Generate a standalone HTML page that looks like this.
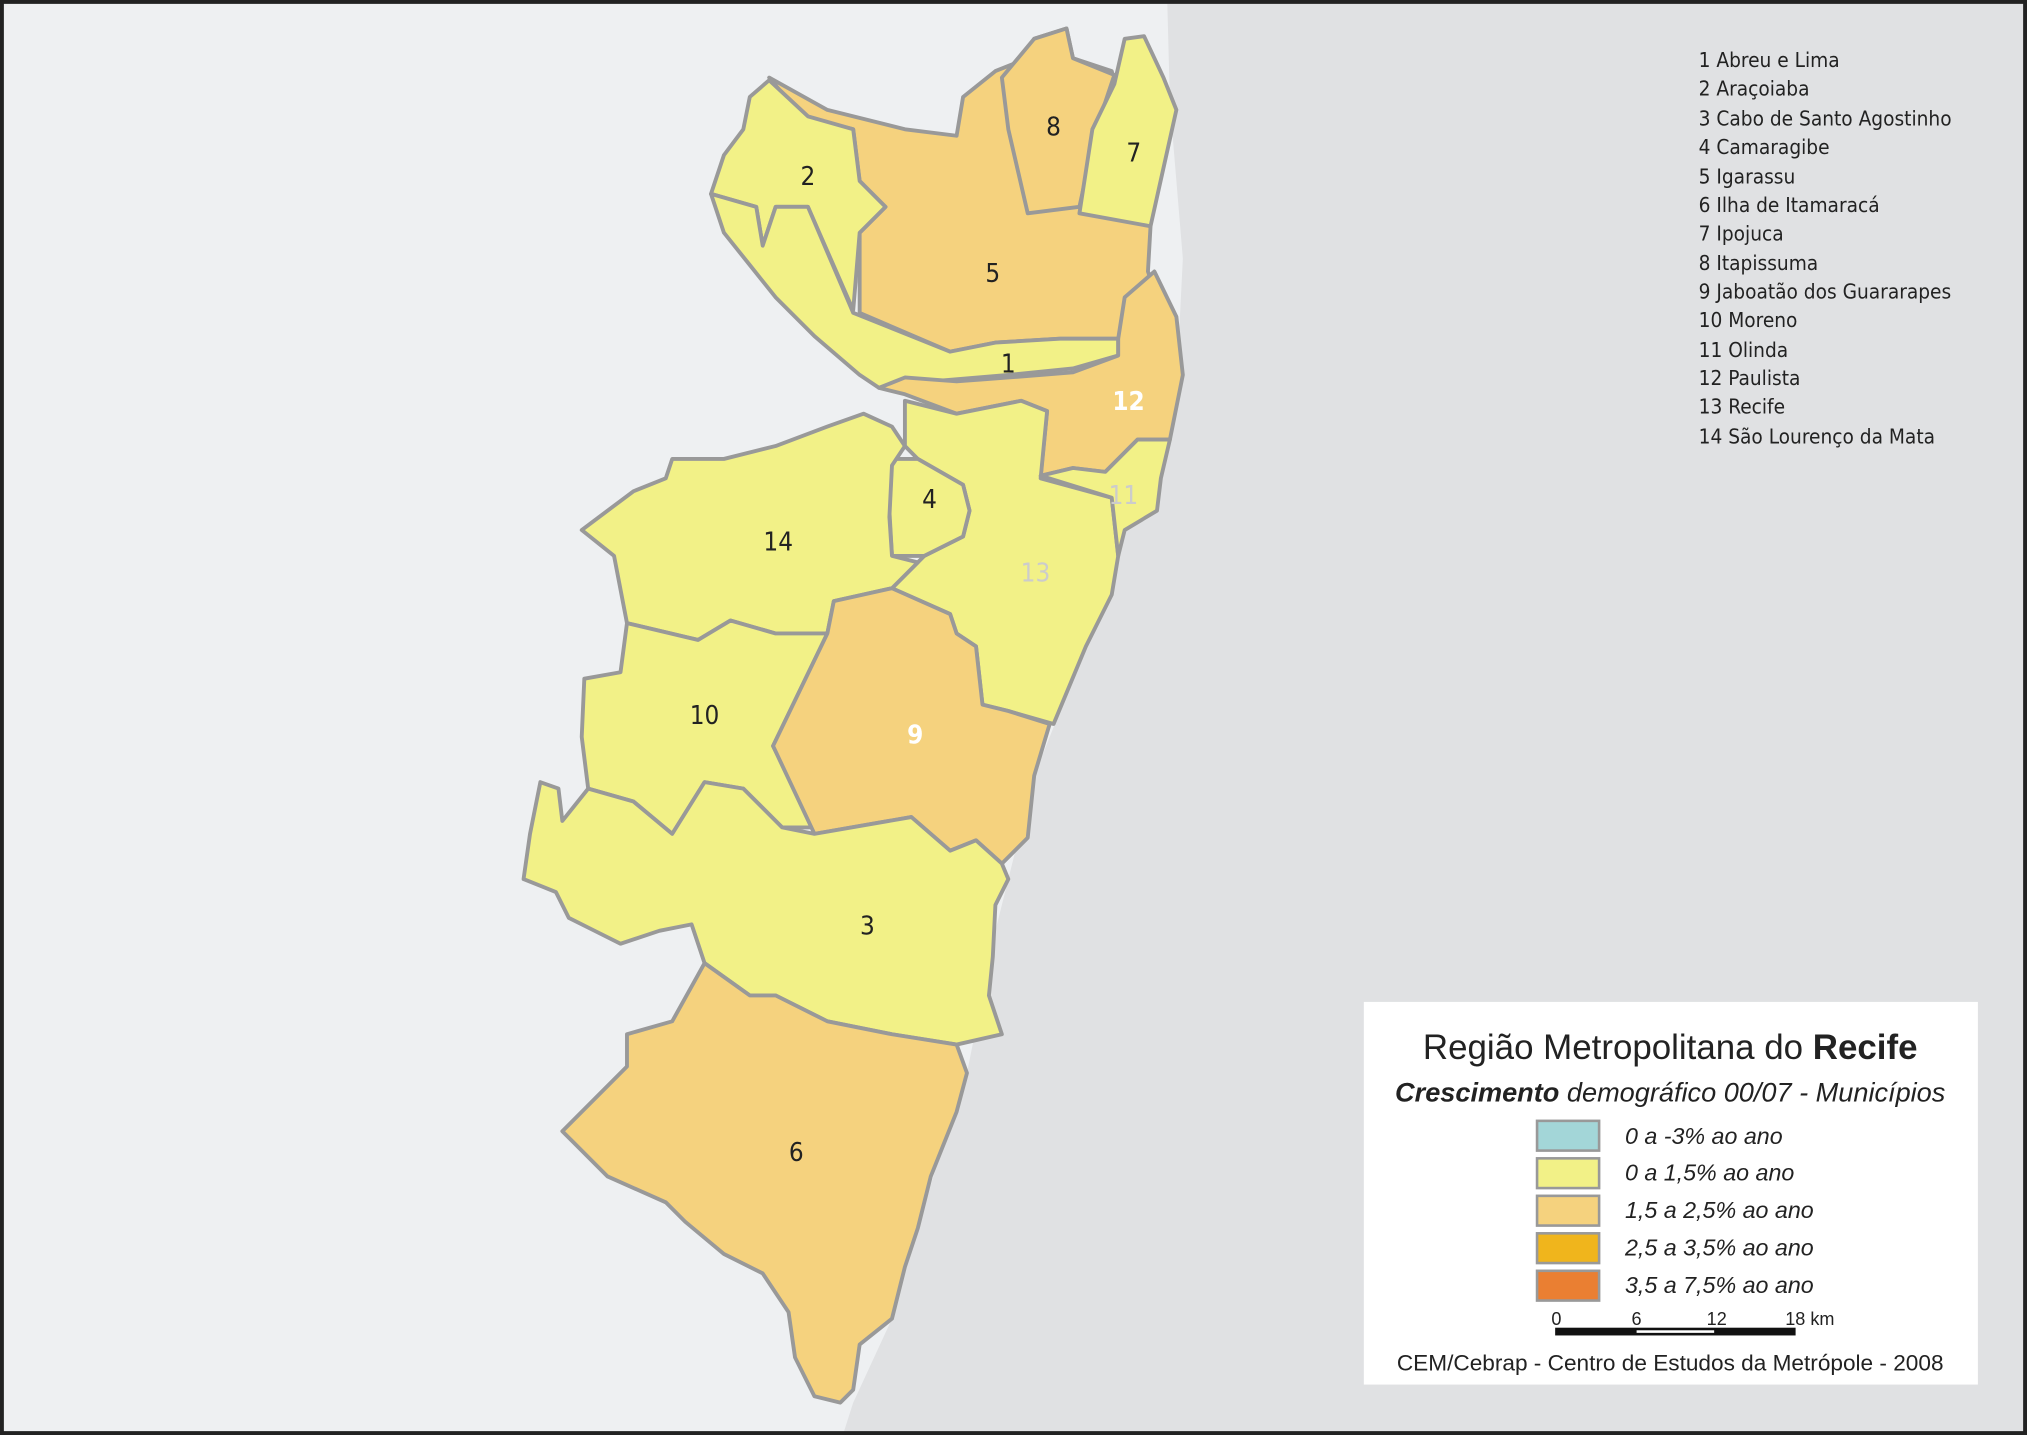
<!DOCTYPE html>
<html><head><meta charset="utf-8"><style>
html,body{margin:0;padding:0;background:#fff}
svg{display:block}
text{font-family:"Liberation Sans","DejaVu Sans",sans-serif}
.n{font-family:"DejaVu Sans Condensed","Liberation Sans Narrow","Liberation Sans",sans-serif;font-size:16px;fill:#222}
.lab{font-family:"DejaVu Sans Condensed","Liberation Sans",sans-serif;font-size:20px;fill:#222;text-anchor:middle}
.y{fill:#f2f187;stroke:#999;stroke-width:3;stroke-linejoin:round}
.o{fill:#f5d27e;stroke:#999;stroke-width:3;stroke-linejoin:round}
</style></head><body>
<svg width="2027" height="1435" viewBox="0 0 1568 1110" preserveAspectRatio="none">
<rect x="0" y="0" width="1568" height="1110" fill="#eef0f2"/>
<polygon points="903,3 1568,3 1568,1110 652,1110 660,1085 690,1020 710,950 725,900 748,830 770,720 800,600 840,500 870,400 910,300 915,200 905,80" fill="#e0e1e3"/>
<g>
<polygon class="o" points="595,60 640,85 700,100 740,105 745,75 770,55 795,45 800,30 825,22 830,45 860,55 865,75 850,100 835,160 890,175 888,210 895,230 880,245 868,262 820,262 770,265 735,272 665,242 665,180 685,160 665,140 660,100 620,90"/>
<polygon class="o" points="775,60 800,30 825,22 830,45 862,58 848,100 835,160 795,165 780,100"/>
<polygon class="y" points="870,30 885,28 900,60 910,85 900,130 890,175 835,165 845,100 862,65"/>
<polygon class="y" points="595,62 580,75 575,100 560,120 550,150 585,160 590,190 600,160 625,160 660,240 665,180 685,160 665,140 660,100 625,90"/>
<polygon class="y" points="550,150 560,180 580,205 600,230 630,260 665,290 680,300 720,295 780,290 830,285 865,275 865,262 820,262 770,265 735,272 660,242 625,160 600,160 590,190 585,160"/>
<polygon class="o" points="870,230 893,210 910,245 915,290 905,340 880,340 855,365 830,362 805,368 810,318 790,310 740,320 700,305 680,300 700,292 740,295 780,292 830,288 865,275 865,262"/>
<polygon class="y" points="700,310 740,320 790,310 810,318 805,370 860,385 865,430 860,460 840,500 815,560 780,550 760,545 755,500 740,490 735,475 690,455 715,430 745,415 750,395 745,375 710,355 700,345"/>
<polygon class="y" points="805,368 830,362 855,365 880,340 905,340 898,370 895,395 870,410 865,430 860,385"/>
<polygon class="y" points="690,355 710,355 745,375 750,395 745,415 715,430 690,430 688,395"/>
<polygon class="y" points="450,410 490,380 515,370 520,355 560,355 600,345 640,330 668,320 690,330 700,345 690,360 688,400 690,430 710,435 690,455 645,465 640,490 600,490 565,480 540,495 485,482 475,430"/>
<polygon class="y" points="485,482 540,495 565,480 600,490 640,490 598,577 630,640 605,640 575,610 545,605 520,645 490,620 455,610 450,570 452,525 480,520"/>
<polygon class="o" points="645,465 690,455 735,475 740,490 755,500 760,545 780,550 812,560 800,600 795,648 775,668 755,650 735,658 705,632 630,645 598,577 640,490"/>
<polygon class="y" points="455,610 490,620 520,645 545,605 575,610 605,640 630,645 705,632 735,658 755,650 775,668 780,680 770,700 768,740 765,770 775,800 740,808 690,800 640,790 600,770 580,770 545,745 535,715 510,720 480,730 460,720 440,710 430,690 405,680 410,645 418,605 432,610 435,635"/>
<polygon class="o" points="545,745 580,770 600,770 640,790 690,800 740,808 748,830 740,860 720,910 710,950 700,980 690,1020 665,1040 660,1075 650,1085 630,1080 615,1050 610,1015 590,985 560,970 530,945 515,930 470,910 435,875 485,825 485,800 520,790"/>
</g>
<g>
<text class="lab" x="780" y="288">1</text>
<text class="lab" x="625" y="143">2</text>
<text class="lab" x="671" y="723">3</text>
<text class="lab" x="719" y="393">4</text>
<text class="lab" x="768" y="218">5</text>
<text class="lab" x="616" y="898">6</text>
<text class="lab" x="877" y="125">7</text>
<text class="lab" x="815" y="105">8</text>
<text class="lab" x="708" y="575" style="fill:#fff;font-weight:bold">9</text>
<text class="lab" x="545" y="560">10</text>
<text class="lab" x="869" y="390" style="fill:#ccc">11</text>
<text class="lab" x="873" y="317" style="fill:#fff;font-weight:bold">12</text>
<text class="lab" x="801" y="450" style="fill:#ccc">13</text>
<text class="lab" x="602" y="426">14</text>
</g>
<g>
<text class="n" x="1314" y="52">1  Abreu e Lima</text>
<text class="n" x="1314" y="74">2  Araçoiaba</text>
<text class="n" x="1314" y="97">3  Cabo de Santo Agostinho</text>
<text class="n" x="1314" y="119">4  Camaragibe</text>
<text class="n" x="1314" y="142">5  Igarassu</text>
<text class="n" x="1314" y="164">6  Ilha de Itamaracá</text>
<text class="n" x="1314" y="186">7  Ipojuca</text>
<text class="n" x="1314" y="209">8  Itapissuma</text>
<text class="n" x="1314" y="231">9  Jaboatão dos Guararapes</text>
<text class="n" x="1314" y="253">10  Moreno</text>
<text class="n" x="1314" y="276">11  Olinda</text>
<text class="n" x="1314" y="298">12  Paulista</text>
<text class="n" x="1314" y="320">13  Recife</text>
<text class="n" x="1314" y="343">14  São Lourenço da Mata</text>
</g>
<g>
<rect x="1055" y="775" width="475" height="296" fill="#fff"/>
<text x="1292" y="819" text-anchor="middle" font-size="27" fill="#222">Região Metropolitana do <tspan font-weight="bold">Recife</tspan></text>
<text x="1292" y="852" text-anchor="middle" font-size="21" font-style="italic" fill="#222"><tspan font-weight="bold">Crescimento</tspan> demográfico 00/07 - Municípios</text>
<g font-size="18" font-style="italic" fill="#222">
<rect x="1189" y="867" width="48" height="23" fill="#a3d6d8" stroke="#999" stroke-width="2"/><text x="1257" y="885">0 a -3% ao ano</text>
<rect x="1189" y="896" width="48" height="23" fill="#f2f187" stroke="#999" stroke-width="2"/><text x="1257" y="913">0 a 1,5% ao ano</text>
<rect x="1189" y="925" width="48" height="23" fill="#f5d27e" stroke="#999" stroke-width="2"/><text x="1257" y="942">1,5 a 2,5% ao ano</text>
<rect x="1189" y="954" width="48" height="23" fill="#f0b51c" stroke="#999" stroke-width="2"/><text x="1257" y="971">2,5 a 3,5% ao ano</text>
<rect x="1189" y="983" width="48" height="23" fill="#ea7f32" stroke="#999" stroke-width="2"/><text x="1257" y="1000">3,5 a 7,5% ao ano</text>
</g>
<g font-size="14" fill="#222">
<rect x="1203" y="1027" width="186" height="6" fill="#111"/>
<rect x="1266" y="1029" width="60" height="2" fill="#fff"/>
<text x="1204" y="1025" text-anchor="middle">0</text>
<text x="1266" y="1025" text-anchor="middle">6</text>
<text x="1328" y="1025" text-anchor="middle">12</text>
<text x="1400" y="1025" text-anchor="middle">18 km</text>
</g>
<text x="1292" y="1060" text-anchor="middle" font-size="17.5" fill="#222">CEM/Cebrap - Centro de Estudos da Metrópole - 2008</text>
</g>
<rect x="1.5" y="1.5" width="1565" height="1107" fill="none" stroke="#222" stroke-width="3"/>
</svg>
</body></html>
